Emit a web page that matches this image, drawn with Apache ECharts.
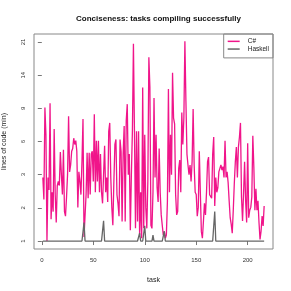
<!DOCTYPE html>
<html>
<head>
<meta charset="utf-8">
<script src="https://cdn.jsdelivr.net/npm/echarts@6/dist/echarts.min.js"></script>
<style>html,body{margin:0;padding:0;background:#fff}#c{width:291px;height:291px}</style>
</head>
<body>
<div id="c"></div>
<script>
// lines of code (min) per task
const csharp = [
 3.3,2.3,9.0,6.2,1,3.3,2.7,9.5,1.6,2.6, 1.85,6.7,2.5,1.5,2.9,3.1,2.9,4.85,3.45,2.5,
 5.0,1.85,1.7,2.4,3.45,8.0,3.6,4.0,4.9,5.1, 5.9,5.4,5.7,4.9,2.0,3.6,3.1,2.5,4.2,7.7,
 1.1,1.15,2.5,4.8,2.35,4.8,2.5,4.7,4.9,3.1, 8.2,2.6,5.7,
 3.1,5.7,2.6,4.7,2.6,2.15,2.1,5.3,2.6,3.3, 2.2,6.5,7.3,3.3,2.0,1.42,3.1,5.4,5.8,2.5,
 2.15,1.7,5.8,4.9,1.53,4.7,7.0,1.53,7.5,9.4, 3.45,4.7,1.28,3.45,6.5,20.5,6.5,1.33,6.5,1.53,
 6.5,1.15,2.6,1.07,11.7,1.33,6.2,2.0,1.33,3.1, 17.3,11.7,1.42,1.33,2.6,10.2,3.3,6.2,
 2.8,2.2,5.1,2.6,1.74,1.42,1.15,1.24,1.07,1.15, 2.2,11.5,2.6,6.2,3.45,14.2,7.8,7.2,2.5,1.74,
 1.85,3.8,4.3,2.6,8.4,5.4,7.8,21.2,9.8,4.7, 4.0,3.45,4.0,3.1,4.2,8.8,4.0,2.6,2.5,1.7,
 2.0,4.9,2.6,1.24,1.07,1.53,2.15,1.74,2.6,4.2, 4.5,2.5,2.5,2.35,4.7,6.0,2.05,3.3,2.6,
 2.8,3.6,3.55,4.0,3.7,3.9,3.3,5.7,3.3,3.6, 3.05,2.25,1.65,1.45,1.2,1.9,3.0,4.2,5.2,3.3,
 5.2,6.0,7.3,2.4,1.55,2.55,4.2,2.25,1.5,5.5, 1.65,1.9,2.0,2.4,6.1,3.85,1.9,2.75,1.9,2.25,
 1.5,1.04,1.25,1.7,1.4,2.05
];
const haskell = [
 1,1,1,1,1,1,1,1,1,1,1,1,1,1,1,1,1,1,1,1,
 1,1,1,1,1,1,1,1,1,1,1,1,1,1,1,1,1,1,1,1,
 1.5,1,1,1,1,1,1,1,1,1,1,1,1,1,1,1,1,1,1,1.55,
 1,1,1,1,1,1,1,1,1,1,1,1,1,1,1,1,1,1,1,1,
 1,1,1,1,1,1,1,1,1,1,1,1,1,1,1.2,1,1,1,1,1.4,
 1,1,1,1,1,1,1,1.15,1,1,1,1,1,1,1,1,1,1,1.25,1,
 1,1,1,1,1,1,1,1,1,1,1,1,1,1,1,1,1,1,1,1,
 1,1,1,1,1,1,1,1,1,1,1,1,1,1,1,1,1,1,1,1,
 1,1,1,1,1,1,1,1.85,1,1,1,1,1,1,1,1,1,1,1,1,
 1,1,1,1,1,1,1,1,1,1,1,1,1,1,1,1,1,1,1,1,
 1,1,1,1,1,1,1,1,1,1,1,1,1,1,1,1
];
const seriesNames = ['C#', 'Haskell'];
const xTicks = [0, 50, 100, 150, 200];
const yTickLabels = ['1', '2', '3', '6', '9', '14', '21'];

// axis scale: log(v+1), ticks equally spaced from 1 to 21
const lo = Math.log(2), hi = Math.log(22);
const tf = v => (Math.log(v + 1) - lo) / (hi - lo) * (yTickLabels.length - 1);
const yTickPos = yTickLabels.map((s, i) => i);

const n = csharp.length;
const padX = (n - 1) * 0.04;
const padY = (yTickLabels.length - 1) * 0.04;

const chart = echarts.init(document.getElementById('c'), null, {renderer: 'canvas'});
chart.setOption({
  animation: false,
  backgroundColor: '#fff',
  title: {
    text: 'Conciseness: tasks compiling successfully',
    left: 153.5, top: 10, textAlign: 'center',
    textStyle: {fontFamily: 'Liberation Sans', fontSize: 8, fontWeight: 'bold', color: '#111'}
  },
  legend: {
    data: seriesNames,
    orient: 'vertical',
    right: 18, top: 34,
    icon: 'rect',
    itemWidth: 12, itemHeight: 1.5, itemGap: 0,
    padding: [3.5, 4, 5, 4],
    borderColor: '#888', borderWidth: 1,
    textStyle: {fontFamily: 'Liberation Sans', fontSize: 6.5, color: '#222', padding: [0, 0, 0, 3], lineHeight: 7.7}
  },
  grid: {left: 34, right: 18, top: 34, bottom: 42, show: true, borderColor: '#888', borderWidth: 1,
         containLabel: false, outerBoundsMode: 'none'},
  xAxis: {
    type: 'value', min: 1 - padX, max: n + padX,
    name: 'task', nameLocation: 'middle', nameGap: 28,
    nameTextStyle: {fontFamily: 'Liberation Sans', fontSize: 7, color: '#222'},
    axisLine: {show: false},
    axisTick: {show: true, length: 4, lineStyle: {color: '#777'}, customValues: xTicks},
    axisLabel: {fontFamily: 'Liberation Sans', fontSize: 6, color: '#333', margin: 8, customValues: xTicks},
    splitLine: {show: false}
  },
  yAxis: {
    type: 'value', min: -padY, max: yTickLabels.length - 1 + padY,
    name: 'lines of code (min)', nameLocation: 'middle', nameGap: 26, nameRotate: 90,
    nameTextStyle: {fontFamily: 'Liberation Sans', fontSize: 7, color: '#222'},
    axisLine: {show: false},
    axisTick: {show: true, length: 4, lineStyle: {color: '#777'}, customValues: yTickPos},
    axisLabel: {
      fontFamily: 'Liberation Sans', fontSize: 6, color: '#333', margin: 8, rotate: 90,
      customValues: yTickPos,
      formatter: v => yTickLabels[Math.round(v)]
    },
    splitLine: {show: false}
  },
  series: [
    {
      name: seriesNames[0], type: 'line', symbol: 'none',
      lineStyle: {color: '#F0158A', width: 1.3}, itemStyle: {color: '#F0158A'},
      data: csharp.map((v, i) => [i + 1, tf(v)])
    },
    {
      name: seriesNames[1], type: 'line', symbol: 'none',
      lineStyle: {color: '#666666', width: 1.3}, itemStyle: {color: '#666666'},
      data: haskell.map((v, i) => [i + 1, tf(v)])
    }
  ]
});
</script>
</body>
</html>
